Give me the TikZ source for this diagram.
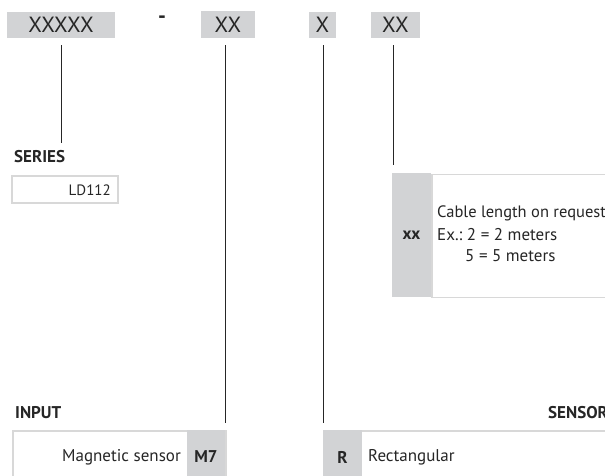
\documentclass[tikz,border=0pt]{standalone}
\usepackage{fontspec}
\setmainfont{PT Sans}
\definecolor{boxgray}{HTML}{D2D3D5}
\definecolor{framegray}{HTML}{D8D8D8}
\definecolor{txt}{HTML}{262626}
\begin{document}
\begin{tikzpicture}[x=1pt,y=-1pt,
  codebox/.style={fill=boxgray, inner sep=0pt, text=txt, font=\fontsize{22}{24}\selectfont},
  conn/.style={draw=txt, line width=1pt},
  head/.style={anchor=west, inner sep=0pt, text=txt, font=\fontsize{17}{19}\selectfont\bfseries},
  body/.style={anchor=west, inner sep=0pt, text=txt, font=\fontsize{17}{19}\selectfont},
  keycell/.style={fill=boxgray, inner sep=0pt, text=txt, font=\fontsize{17}{19}\selectfont\bfseries},
  frame/.style={draw=framegray, line width=1.5pt, fill=white}
]
\useasboundingbox (0,0) rectangle (605,475);
\clip (0,0) rectangle (605,475);
% code boxes
\node[codebox, minimum width=108, minimum height=26] (b1) at (61,25) {XXXXX};
\node[inner sep=0pt, text=txt, font=\fontsize{22}{24}\selectfont\bfseries] (dash) at (162,19.5) {-};
\node[codebox, minimum width=54, minimum height=27] (b2) at (228,24.5) {XX};
\node[codebox, minimum width=27, minimum height=26] (b3) at (322.5,25) {X};
\node[codebox, minimum width=49, minimum height=26] (b4) at (395.5,25) {XX};
% end points
\coordinate (e1) at (61,143);
\coordinate (e2) at (225,423);
\coordinate (e3) at (323,423);
\coordinate (e4) at (393,165);
\draw[conn] ([yshift=-7pt]b1.south -| e1) -- (e1);
\draw[conn] ([yshift=-7pt]b2.south -| e2) -- (e2);
\draw[conn] ([yshift=-7pt]b3.south -| e3) -- (e3);
\draw[conn] ([yshift=-7pt]b4.south -| e4) -- (e4);
% series
\node[head] (series) at (14,157) {SERIES};
\node[frame, minimum width=106, minimum height=27, inner sep=0pt] (ld) at (65,189.5) {};
\node[body, anchor=east, font=\fontsize{15}{17}\selectfont] (ldt) at (111,190) {LD112};
% cable length
\node[frame, anchor=north west, minimum width=200, minimum height=123, inner sep=0pt] (cab) at (431,173.5) {};
\node[keycell, minimum width=39, minimum height=124] (xx) at (411.5,235) {xx};
\node[body, font=\fontsize{16.5}{19}\selectfont] (c1) at (437,213) {Cable length on request};
\node[body] (c2) at (437,235) {Ex.:\ 2 = 2 meters};
\node[body] (c3) at (465,256) {5 = 5 meters};
% input
\node[head] (input) at (15,413) {INPUT};
\node[frame, anchor=north west, minimum width=213, minimum height=60, inner sep=0pt] (inbox) at (12,430) {};
\node[keycell, anchor=north west, minimum width=38, minimum height=60] (m7) at (187,430) {};
\node[keycell] (m7t) at (206,457) {M7};
\node[body, anchor=east] (mag) at (181,457) {Magnetic sensor};
% sensor
\node[head] (sensor) at (548,413) {SENSOR};
\node[frame, anchor=north west, minimum width=300, minimum height=60, inner sep=0pt] (sbox) at (323,430) {};
\node[keycell, anchor=north west, minimum width=39, minimum height=60] (r) at (323,430) {};
\node[keycell] (rt) at (342.5,457) {R};
\node[body] (rect) at (368,457) {Rectangular};
\end{tikzpicture}
\end{document}
